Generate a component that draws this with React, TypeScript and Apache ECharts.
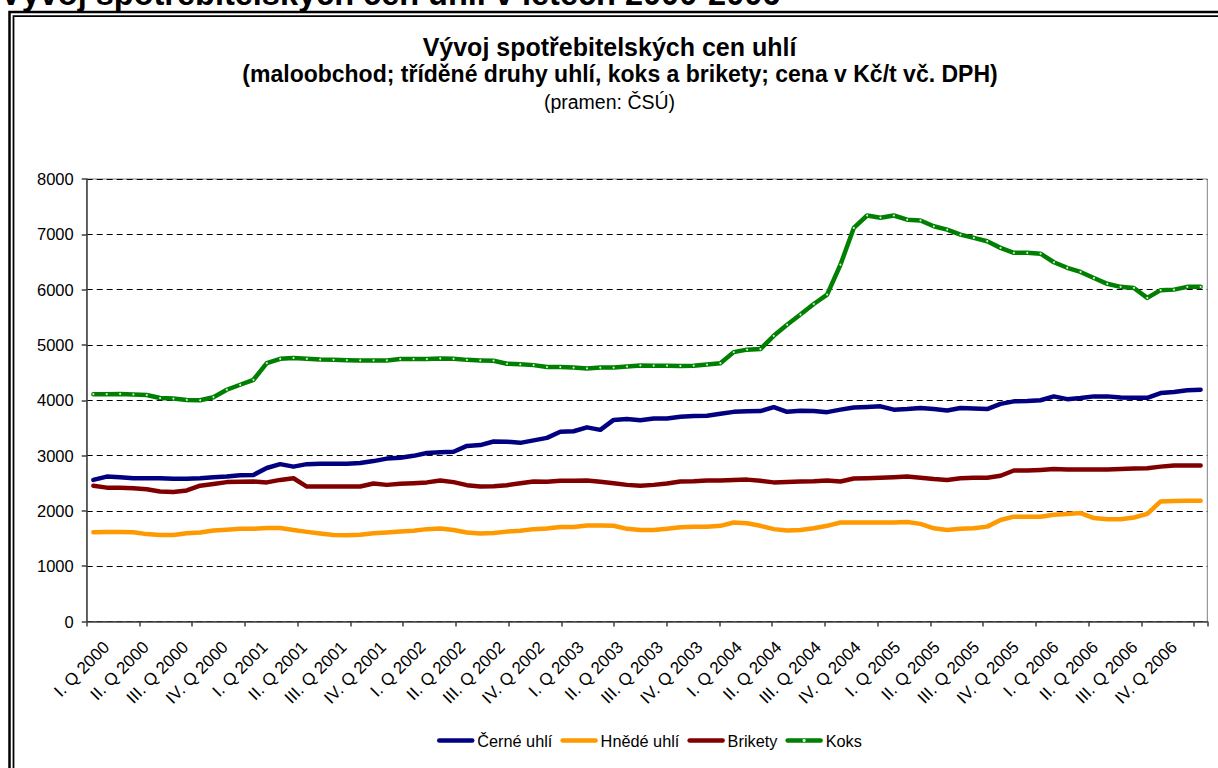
import React, { useEffect, useRef } from 'react';
import * as echarts from 'echarts';

const years = ['2000', '2001', '2002', '2003', '2004', '2005', '2006'];
const monthNumbers = ['01', '02', '03', '04', '05', '06', '07', '08', '09', '10', '11', '12'];
const quarterNames = ['I.', 'II.', 'III.', 'IV.'];
const quarterLabels = years.flatMap((y) => quarterNames.map((q) => `${q} Q ${y}`));
const months = years.flatMap((y) => monthNumbers.map((m) => `${m}/${y}`));
// the category axis that carries ticks and labels has one spare slot at its end
const labelSlots = [...months, ''];

const cerneUhli = [
  2560, 2620, 2610, 2590, 2590, 2590, 2580, 2580, 2590, 2610,
  2620, 2645, 2650, 2775, 2845, 2800, 2845, 2850, 2850, 2850,
  2865, 2900, 2945, 2960, 2995, 3045, 3060, 3070, 3175, 3190,
  3255, 3250, 3230, 3275, 3320, 3430, 3440, 3510, 3465, 3645,
  3660, 3640, 3670, 3670, 3700, 3715, 3720, 3755, 3790, 3800,
  3805, 3875, 3790, 3810, 3805, 3785, 3830, 3870, 3880, 3890,
  3830, 3840, 3860, 3840, 3815, 3860, 3850, 3840, 3935, 3980,
  3985, 4000, 4070, 4020, 4040, 4070, 4070, 4050, 4045, 4045,
  4130, 4150, 4180, 4190,
];

const hnedeUhli = [
  1615, 1620, 1620, 1615, 1580, 1565, 1565, 1595, 1610, 1645,
  1660, 1675, 1675, 1690, 1690, 1655, 1620, 1590, 1565, 1560,
  1570, 1595, 1610, 1625, 1640, 1670, 1680, 1655, 1610, 1590,
  1600, 1625, 1640, 1670, 1680, 1710, 1710, 1735, 1735, 1730,
  1675, 1655, 1655, 1675, 1705, 1715, 1715, 1730, 1790, 1775,
  1730, 1670, 1645, 1655, 1685, 1730, 1790, 1790, 1790, 1790,
  1790, 1800, 1765, 1685, 1655, 1675, 1685, 1715, 1835, 1895,
  1895, 1895, 1930, 1945, 1960, 1870, 1850, 1850, 1880, 1945,
  2170, 2180, 2185, 2185,
];

const brikety = [
  2455, 2420, 2420, 2410, 2390, 2350, 2340, 2370, 2455, 2485,
  2520, 2525, 2530, 2515, 2560, 2590, 2440, 2440, 2440, 2440,
  2440, 2495, 2470, 2490, 2500, 2515, 2550, 2520, 2465, 2440,
  2445, 2465, 2500, 2530, 2525, 2545, 2545, 2550, 2525, 2500,
  2470, 2455, 2470, 2495, 2530, 2535, 2550, 2550, 2560, 2565,
  2545, 2515, 2520, 2530, 2535, 2550, 2530, 2585, 2590, 2600,
  2610, 2620, 2600, 2575, 2560, 2590, 2600, 2600, 2635, 2730,
  2730, 2740, 2755, 2750, 2750, 2750, 2750, 2755, 2765, 2770,
  2800, 2820, 2820, 2820,
];

const koks = [
  4110, 4110, 4115, 4105, 4095, 4040, 4030, 4005, 4000, 4055,
  4190, 4280, 4370, 4670, 4750, 4765, 4750, 4735, 4730, 4725,
  4720, 4720, 4720, 4745, 4745, 4745, 4755, 4750, 4730, 4720,
  4715, 4660, 4650, 4635, 4600, 4600, 4590, 4575, 4590, 4590,
  4610, 4630, 4625, 4625, 4620, 4625, 4645, 4670, 4870, 4915,
  4925, 5165, 5365, 5550, 5740, 5910, 6450, 7115, 7340, 7300,
  7340, 7265, 7250, 7145, 7085, 6995, 6935, 6875, 6755, 6665,
  6665, 6650, 6495, 6395, 6320, 6210, 6105, 6050, 6030, 5850,
  5990, 6000, 6050, 6050,
];

const seriesNames = ['Černé uhlí', 'Hnědé uhlí', 'Brikety', 'Koks'];
const seriesColors = ['#000080', '#FF9900', '#800000', '#008000'];
const seriesValues = [cerneUhli, hnedeUhli, brikety, koks];

const FONT = '"Liberation Sans", Arial, sans-serif';
const AXIS_COLOR = '#404040';

const labelBySlot: Record<string, string> = {};
labelSlots.forEach((m, i) => {
  if (i % 3 === 1 && (i - 1) / 3 < quarterLabels.length) labelBySlot[m] = quarterLabels[(i - 1) / 3];
});

export default function App() {
  const ref = useRef<HTMLDivElement>(null);

  useEffect(() => {
    if (!ref.current) return;
    const chart = echarts.init(ref.current, undefined, { renderer: 'svg' });

    const gridLeft = 86.7;
    const gridTop = 179;
    const gridWidth = 1120.6;
    const gridHeight = 442.5;

    chart.setOption({
      animation: false,
      backgroundColor: '#ffffff',
      textStyle: { fontFamily: FONT },
      grid: {
        left: gridLeft,
        top: gridTop,
        width: gridWidth,
        height: gridHeight,
        containLabel: false,
        outerBoundsMode: 'none',
      },
      legend: {
        left: 437,
        top: 732.5,
        padding: 0,
        itemWidth: 33,
        itemHeight: 4,
        itemGap: 8,
        data: seriesNames,
        textStyle: { fontSize: 16.3, color: '#000', fontFamily: FONT },
        lineStyle: { width: 4.5, cap: 'round' },
      },
      xAxis: [
        {
          type: 'category',
          data: months,
          boundaryGap: true,
          position: 'bottom',
          axisLine: { show: true, onZero: false, lineStyle: { color: AXIS_COLOR, width: 1.5 } },
          axisTick: { show: false },
          axisLabel: { show: false },
          splitLine: { show: false },
        },
        {
          type: 'category',
          data: labelSlots,
          boundaryGap: true,
          position: 'bottom',
          axisLine: { show: false },
          axisTick: { show: true, interval: 3, length: 5, lineStyle: { color: AXIS_COLOR, width: 1.5 } },
          axisLabel: {
            interval: (index: number) => index % 3 === 1 && index < 84,
            formatter: (value: string) => labelBySlot[value] || '',
            rotate: 45,
            margin: 23,
            color: '#000',
            fontSize: 17,
            fontFamily: FONT,
          },
          splitLine: { show: false },
        },
      ],
      yAxis: {
        type: 'value',
        min: 0,
        max: 8000,
        interval: 1000,
        axisLine: { show: true, lineStyle: { color: AXIS_COLOR, width: 1.5 } },
        axisTick: { show: true, inside: false, length: 5, lineStyle: { color: AXIS_COLOR, width: 1.5 } },
        axisLabel: {
          margin: 13,
          color: '#000',
          fontSize: 16.5,
          fontFamily: FONT,
          formatter: (v: number) => String(v),
        },
        splitLine: { show: true, lineStyle: { color: '#000', width: 1, type: [6, 4] } },
      },
      graphic: [
        {
          type: 'rect',
          silent: true,
          z: -1,
          shape: { x: gridLeft, y: gridTop, width: gridWidth, height: gridHeight },
          style: { fill: 'none', stroke: '#808080', lineWidth: 1 },
        },
        {
          type: 'rect',
          silent: true,
          shape: { x: 9.5, y: 12, width: 1400, height: 1000 },
          style: { fill: 'none', stroke: '#000', lineWidth: 2.5 },
        },
        {
          type: 'rect',
          silent: true,
          shape: { x: 13.5, y: 16, width: 1400, height: 1000 },
          style: { fill: 'none', stroke: '#000', lineWidth: 1.75 },
        },
        {
          type: 'text',
          silent: true,
          x: 0,
          y: 10,
          style: {
            text: 'Vývoj spotřebitelských cen uhlí v letech 2000-2006',
            font: `bold 32.5px ${FONT}`,
            fill: '#000',
            align: 'left',
            verticalAlign: 'bottom',
          },
        },
        {
          type: 'text',
          silent: true,
          x: 609.5,
          y: 47,
          style: {
            text: 'Vývoj spotřebitelských cen uhlí',
            font: `bold 25px ${FONT}`,
            fill: '#000',
            align: 'center',
            verticalAlign: 'middle',
          },
        },
        {
          type: 'text',
          silent: true,
          x: 620,
          y: 74,
          style: {
            text: '(maloobchod; tříděné druhy uhlí, koks a brikety; cena v Kč/t vč. DPH)',
            font: `bold 23px ${FONT}`,
            fill: '#000',
            align: 'center',
            verticalAlign: 'middle',
          },
        },
        {
          type: 'text',
          silent: true,
          x: 609.5,
          y: 102,
          style: {
            text: '(pramen: ČSÚ)',
            font: `19.5px ${FONT}`,
            fill: '#000',
            align: 'center',
            verticalAlign: 'middle',
          },
        },
      ],
      series: seriesNames.map((name, k) => ({
        name,
        type: 'line',
        xAxisIndex: 0,
        yAxisIndex: 0,
        data: seriesValues[k],
        smooth: false,
        symbol: 'circle',
        symbolSize: k === 3 ? 2 : 3,
        showSymbol: k === 3,
        showAllSymbol: true,
        itemStyle: { color: k === 3 ? '#d6ecd6' : seriesColors[k] },
        lineStyle: { color: seriesColors[k], width: 4.5, cap: 'round', join: 'round' },
        emphasis: { disabled: true },
        z: 2 + k,
      })),
    });

    return () => chart.dispose();
  }, []);

  return (
    <div
      ref={ref}
      style={{ position: 'fixed', left: 0, top: 0, width: 1218, height: 768, background: '#fff' }}
    />
  );
}
